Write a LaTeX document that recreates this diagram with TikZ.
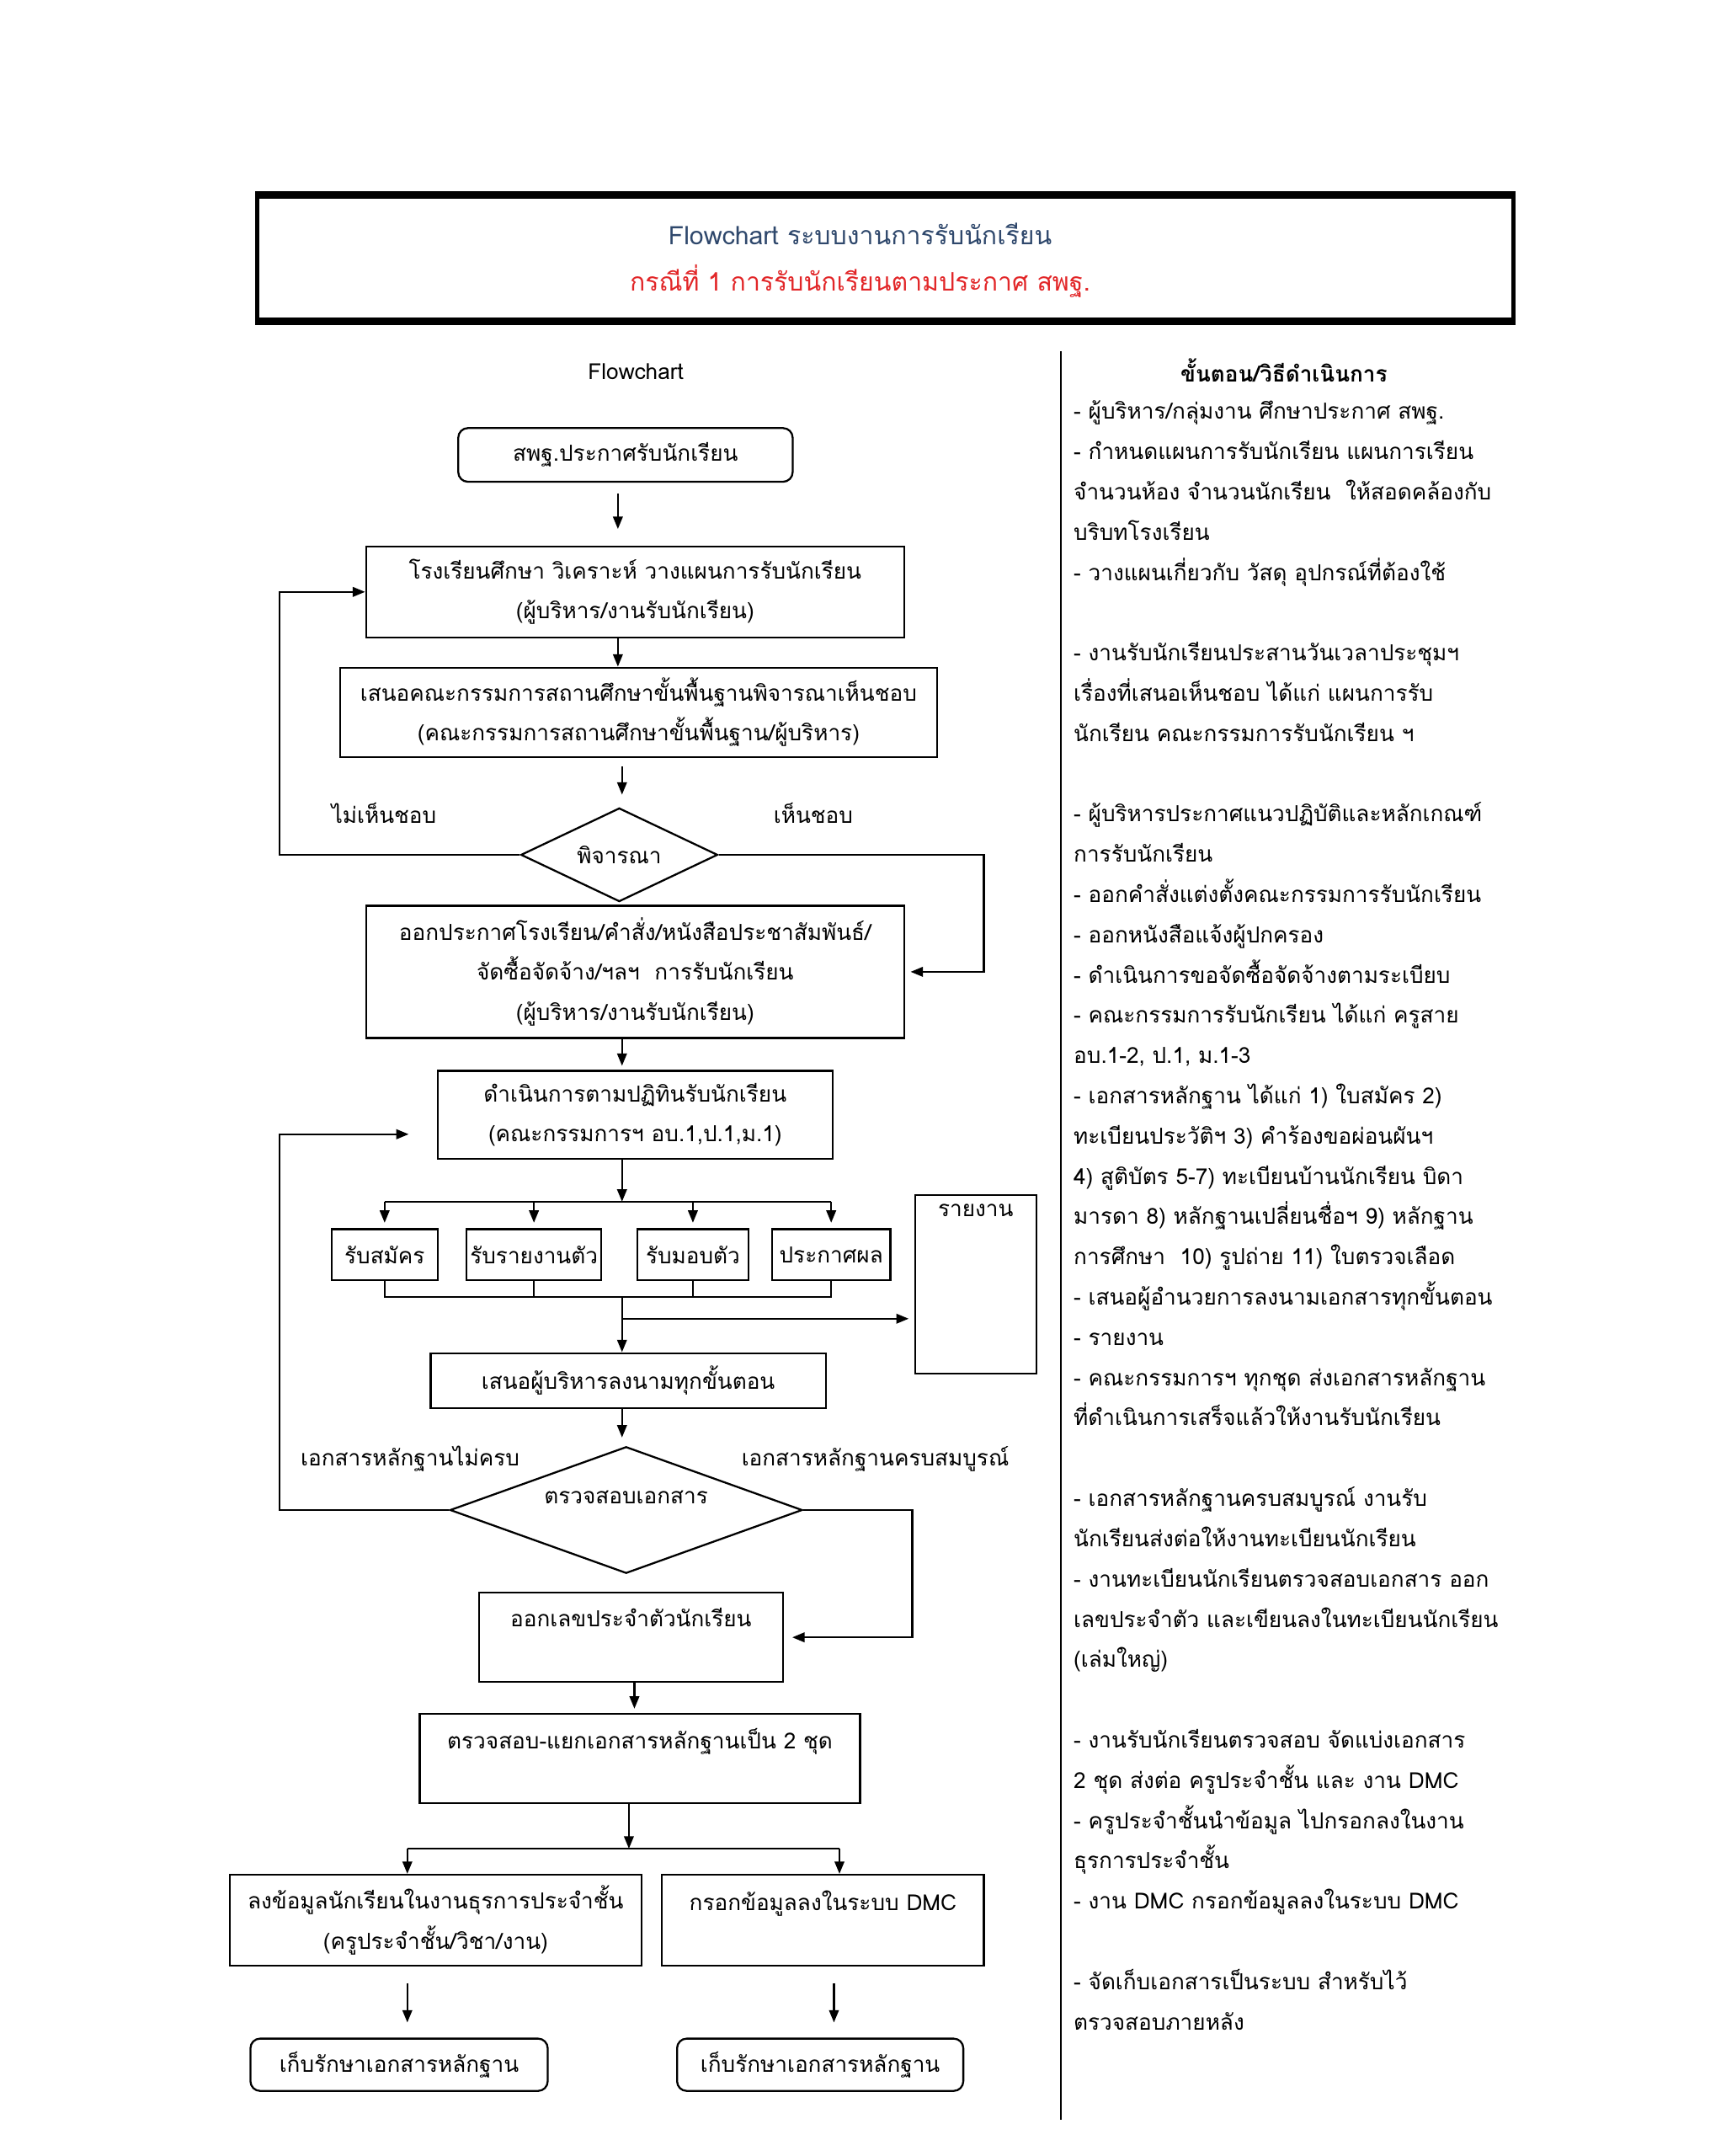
\documentclass[tikz,border=0pt]{standalone}
\usepackage{fontspec}
\setmainfont[Script=Thai]{Loma}
\usetikzlibrary{arrows.meta,shapes.geometric}
\definecolor{tblue}{RGB}{47,72,108}
\definecolor{tred}{RGB}{226,38,40}
\begin{document}
\begin{tikzpicture}[x=1pt,y=-1pt,
  txt/.style={font={\fontsize{16}{29}\selectfont}, align=center, inner sep=0pt},
  box/.style={txt, draw, line width=1.4pt, rectangle},
  rbox/.style={box, rounded corners=7pt},
  dia/.style={txt, draw, line width=1.4pt, diamond},
  arr/.style={line width=1.4pt, -{Triangle[length=9pt,width=7pt]}},
  ln/.style={line width=1.4pt}]
\useasboundingbox[fill=white] (0,0) rectangle (1250,1566.3);

% title
\node[draw, line width=3pt, minimum width=913pt, minimum height=89pt, inner sep=0pt] (title) at (643.5,187.5) {};
\draw[line width=5pt] (title.north west) -- (title.north east);
\draw[line width=5pt] (title.south west) -- (title.south east);
\node[txt, font={\fontsize{18.5}{34}\selectfont}] (ttext) at (625,189) {\color{tblue}Flowchart ระบบงานการรับนักเรียน\\\color{tred}กรณีที่ 1 การรับนักเรียนตามประกาศ สพฐ.};

% headings
\node[txt] (fch) at (462,270) {Flowchart};
\node[txt, font={\fontsize{16}{29}\selectfont\bfseries}] (sth) at (933,269) {ขั้นตอน/วิธีดำเนินการ};
\coordinate (sepT) at (771,255);
\coordinate (sepB) at (771,1540);
\draw[line width=1.6pt] (sepT) -- (sepB);

% flowchart nodes
\node[rbox, minimum width=243pt, minimum height=39pt] (b1) at (454.5,330.5) {สพฐ.ประกาศรับนักเรียน};
\node[box, minimum width=391pt, minimum height=66pt] (b2) at (461.5,430) {โรงเรียนศึกษา วิเคราะห์ วางแผนการรับนักเรียน\\(ผู้บริหาร/งานรับนักเรียน)};
\node[box, minimum width=434pt, minimum height=65pt] (b3) at (464,517.5) {เสนอคณะกรรมการสถานศึกษาขั้นพื้นฐานพิจารณาเห็นชอบ\\(คณะกรรมการสถานศึกษาขั้นพื้นฐาน/ผู้บริหาร)};
\node[dia, aspect=2.1, minimum width=143pt, minimum height=68pt] (d1) at (450,621) {พิจารณา};
\node[txt] (no1) at (279,591) {ไม่เห็นชอบ};
\node[txt] (yes1) at (591,591) {เห็นชอบ};
\node[box, minimum width=391pt, minimum height=96pt] (b4) at (461.5,706) {ออกประกาศโรงเรียน/คำสั่ง/หนังสือประชาสัมพันธ์/\\จัดซื้อจัดจ้าง/ฯลฯ~ การรับนักเรียน\\(ผู้บริหาร/งานรับนักเรียน)};
\node[box, minimum width=287pt, minimum height=64pt] (b5) at (461.5,810) {ดำเนินการตามปฏิทินรับนักเรียน\\(คณะกรรมการฯ อบ.1,ป.1,ม.1)};
\node[box, minimum width=77pt, minimum height=37pt] (s1) at (279.5,911.5) {รับสมัคร};
\node[box, minimum width=98pt, minimum height=37pt] (s2) at (388,911.5) {รับรายงานตัว};
\node[box, minimum width=81pt, minimum height=37pt] (s3) at (503.5,911.5) {รับมอบตัว};
\node[box, minimum width=86pt, minimum height=37pt] (s4) at (604,911.5) {ประกาศผล};
\node[box, minimum width=88pt, minimum height=130pt, label={[txt, anchor=north, yshift=-7pt]north:รายงาน}] (rep) at (709,933) {};
\node[box, minimum width=287pt, minimum height=40pt] (b6) at (456.5,1003) {เสนอผู้บริหารลงนามทุกขั้นตอน};
\node[txt] (no2) at (298,1060) {เอกสารหลักฐานไม่ครบ};
\node[txt] (yes2) at (636,1060) {เอกสารหลักฐานครบสมบูรณ์};
\node[dia, aspect=2.78, minimum width=256pt, minimum height=92pt, text depth=18pt] (d2) at (455,1097) {ตรวจสอบเอกสาร};
\node[box, minimum width=221pt, minimum height=65pt] (b7) at (458.5,1189.5) {ออกเลขประจำตัวนักเรียน\\\mbox{}};
\node[box, minimum width=320pt, minimum height=65pt] (b8) at (465,1277.5) {ตรวจสอบ-แยกเอกสารหลักฐานเป็น 2 ชุด\\\mbox{}};
\node[box, minimum width=299pt, minimum height=66pt] (b9) at (316.5,1395) {ลงข้อมูลนักเรียนในงานธุรการประจำชั้น\\(ครูประจำชั้น/วิชา/งาน)};
\node[box, minimum width=234pt, minimum height=66pt] (b10) at (598,1395) {กรอกข้อมูลลงในระบบ DMC\\\mbox{}};
\node[rbox, minimum width=216pt, minimum height=38pt] (r1) at (290,1500) {เก็บรักษาเอกสารหลักฐาน};
\node[rbox, minimum width=208pt, minimum height=38pt] (r2) at (596,1500) {เก็บรักษาเอกสารหลักฐาน};

% helper coordinates
\coordinate (xa) at (449,0);
\coordinate (xb) at (452,0);
\coordinate (xL) at (203,0);
\coordinate (xR1) at (715,0);
\coordinate (xR2) at (663,0);
\coordinate (t2) at (297,824);
\coordinate (bus1) at (452,873);
\coordinate (bus2) at (452,942);
\coordinate (br) at (452,958);
\coordinate (xc) at (461,0);
\coordinate (bus3) at (457,1343);
\coordinate (c9) at (296,1343);
\coordinate (c10) at (610,1343);
\coordinate (c10b) at (606,0);

% connectors
\draw[arr, shorten <=8pt, shorten >=12pt] (b1.south -| xa) -- (b2.north -| xa);
\draw[arr] (b2.south -| xa) -- (b3.north -| xa);
\draw[arr, shorten <=6pt, shorten >=9pt] (b3.south -| xb) -- (d1.north -| xb);
\draw[arr] (d1.west) -- (d1.west -| xL) |- (b2.west);
\draw[arr, shorten >=4pt] (d1.east) -- (d1.east -| xR1) |- (b4.east);
\draw[arr, shorten >=3pt] (b4.south -| xb) -- (b5.north -| xb);
\draw[arr] (b5.south -| bus1) -- (bus1);
\draw[ln] (s1.north |- bus1) -- (s4.north |- bus1);
\draw[arr, shorten >=4pt] (s1.north |- bus1) -- (s1.north);
\draw[arr, shorten >=4pt] (s2.north |- bus1) -- (s2.north);
\draw[arr, shorten >=4pt] (s3.north |- bus1) -- (s3.north);
\draw[arr, shorten >=4pt] (s4.north |- bus1) -- (s4.north);
\draw[ln] (s1.south) -- (s1.south |- bus2) -- (s4.south |- bus2) -- (s4.south);
\draw[ln] (s2.south) -- (s2.south |- bus2);
\draw[ln] (s3.south) -- (s3.south |- bus2);
\draw[arr] (bus2) -- (b6.north -| bus2);
\draw[arr, shorten >=4pt] (br) -- (br -| rep.west);
\draw[arr, shorten >=6pt] (b6.south -| xb) -- (d2.north -| xb);
\draw[arr] (d2.west) -- (d2.west -| xL) |- (t2);
\draw[arr, shorten >=6pt] (d2.east) -- (d2.east -| xR2) |- (b7.east);
\draw[arr, shorten >=3pt] (b7.south -| xc) -- (b8.north -| xc);
\draw[arr] (b8.south -| bus3) -- (bus3);
\draw[ln] (c9) -- (c10);
\draw[arr] (c9) -- (b9.north -| c9);
\draw[arr] (c10) -- (b10.north -| c10);
\draw[arr, shorten <=12pt, shorten >=11pt] (b9.south -| c9) -- (r1.north -| c9);
\draw[arr, shorten <=12pt, shorten >=11pt] (b10.south -| c10b) -- (r2.north -| c10b);

% right column
\node[txt, font={\fontsize{16}{29.25}\selectfont}, align=left, anchor=north west] (steps) at (780,291) {%
- ผู้บริหาร/กลุ่มงาน ศึกษาประกาศ สพฐ.\\
- กำหนดแผนการรับนักเรียน แผนการเรียน\\
จำนวนห้อง จำนวนนักเรียน~ ให้สอดคล้องกับ\\
บริบทโรงเรียน\\
- วางแผนเกี่ยวกับ วัสดุ อุปกรณ์ที่ต้องใช้\\
\mbox{}\\
- งานรับนักเรียนประสานวันเวลาประชุมฯ\\
เรื่องที่เสนอเห็นชอบ ได้แก่ แผนการรับ\\
นักเรียน คณะกรรมการรับนักเรียน ฯ\\
\mbox{}\\
- ผู้บริหารประกาศแนวปฏิบัติและหลักเกณฑ์\\
การรับนักเรียน\\
- ออกคำสั่งแต่งตั้งคณะกรรมการรับนักเรียน\\
- ออกหนังสือแจ้งผู้ปกครอง\\
- ดำเนินการขอจัดซื้อจัดจ้างตามระเบียบ\\
- คณะกรรมการรับนักเรียน ได้แก่ ครูสาย\\
อบ.1-2, ป.1, ม.1-3\\
- เอกสารหลักฐาน ได้แก่ 1) ใบสมัคร 2)\\
ทะเบียนประวัติฯ 3) คำร้องขอผ่อนผันฯ\\
4) สูติบัตร 5-7) ทะเบียนบ้านนักเรียน บิดา\\
มารดา 8) หลักฐานเปลี่ยนชื่อฯ 9) หลักฐาน\\
การศึกษา~ 10) รูปถ่าย 11) ใบตรวจเลือด\\
- เสนอผู้อำนวยการลงนามเอกสารทุกขั้นตอน\\
- รายงาน\\
- คณะกรรมการฯ ทุกชุด ส่งเอกสารหลักฐาน\\
ที่ดำเนินการเสร็จแล้วให้งานรับนักเรียน\\
\mbox{}\\
- เอกสารหลักฐานครบสมบูรณ์ งานรับ\\
นักเรียนส่งต่อให้งานทะเบียนนักเรียน\\
- งานทะเบียนนักเรียนตรวจสอบเอกสาร ออก\\
เลขประจำตัว และเขียนลงในทะเบียนนักเรียน\\
(เล่มใหญ่)\\
\mbox{}\\
- งานรับนักเรียนตรวจสอบ จัดแบ่งเอกสาร\\
2 ชุด ส่งต่อ ครูประจำชั้น และ งาน DMC\\
- ครูประจำชั้นนำข้อมูล ไปกรอกลงในงาน\\
ธุรการประจำชั้น\\
- งาน DMC กรอกข้อมูลลงในระบบ DMC\\
\mbox{}\\
- จัดเก็บเอกสารเป็นระบบ สำหรับไว้\\
ตรวจสอบภายหลัง};
\end{tikzpicture}
\end{document}
